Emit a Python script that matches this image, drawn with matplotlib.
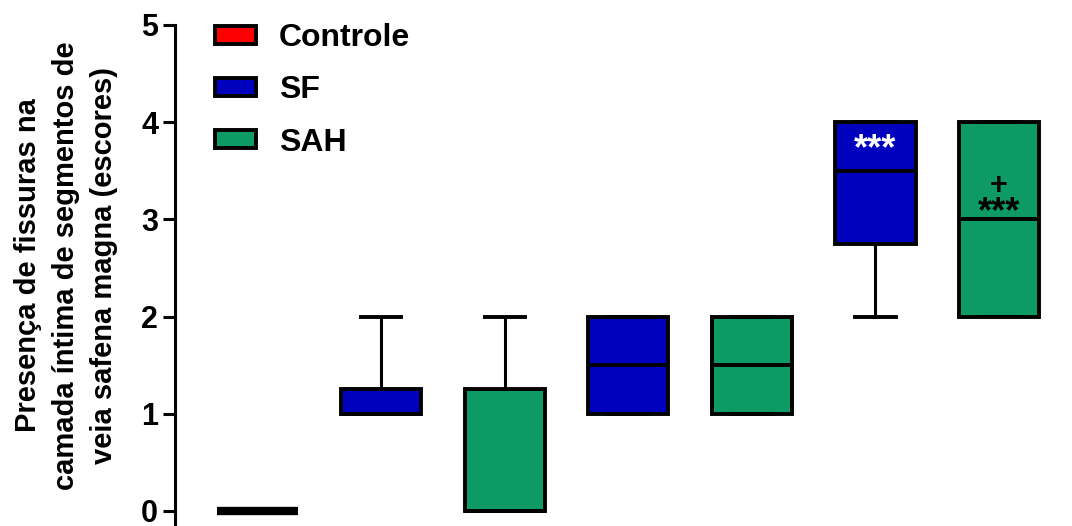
import matplotlib
matplotlib.use('Agg')
import matplotlib.pyplot as plt
from matplotlib.patches import Patch

# box statistics (score 0-5)
groups = ['Controle', 'SF', 'SAH', 'SF', 'SAH', 'SF', 'SAH']
q1 = [0, 1, 0, 1, 1, 2.75, 2]
med = [0, 1, 0, 1.5, 1.5, 3.5, 3]
q3 = [0, 1.25, 1.25, 2, 2, 4, 4]
whislo = [0, 1, 0, 1, 1, 2, 2]
whishi = [0, 2, 2, 2, 2, 4, 4]

colors = {'Controle': '#ff0000', 'SF': '#0000bf', 'SAH': '#0e9a64'}
legend_labels = ['Controle', 'SF', 'SAH']

plt.rcParams['font.family'] = ['Liberation Sans', 'DejaVu Sans']
plt.rcParams['font.weight'] = 'bold'

fig = plt.figure(figsize=(10.72, 5.26), dpi=100)
ax = fig.add_axes([0.163, 0.0, 0.837, 0.9525])

stats = []
for i in range(len(groups)):
    stats.append({'med': med[i], 'q1': q1[i], 'q3': q3[i],
                  'whislo': whislo[i], 'whishi': whishi[i], 'fliers': []})

positions = list(range(1, len(groups) + 1))
bp = ax.bxp(stats, positions=positions, widths=0.65, patch_artist=True,
            showfliers=False,
            boxprops=dict(linewidth=2.8),
            medianprops=dict(color='black', linewidth=2.8),
            whiskerprops=dict(linewidth=2.2),
            capprops=dict(linewidth=2.8))
for box, g in zip(bp['boxes'], groups):
    box.set_facecolor(colors[g])
    box.set_edgecolor('black')
# control box has zero height -> thick bar at 0
bp['medians'][0].set_linewidth(6)

# significance marks
ax.text(6, 3.72, '***', ha='center', va='center', color='white',
        fontsize=26, fontweight='bold')
ax.text(7, 3.34, '+', ha='center', va='center', color='black',
        fontsize=22, fontweight='bold')
ax.text(7, 3.07, '***', ha='center', va='center', color='black',
        fontsize=26, fontweight='bold')

ax.set_xlim(0.33, 7.59)
ax.set_ylim(-0.155, 5)
ax.set_yticks([0, 1, 2, 3, 4, 5])
ax.tick_params(axis='y', labelsize=22, width=2.2, length=9, pad=3)
ax.set_xticks([])
for s in ['top', 'right', 'bottom']:
    ax.spines[s].set_visible(False)
ax.spines['left'].set_linewidth(2.2)

ax.set_ylabel('Presença de fissuras na\ncamada íntima de segmentos de\nveia safena magna (escores)',
              fontsize=21, fontweight='bold', linespacing=1.45)
ax.yaxis.set_label_coords(-0.0635, 0.52)

handles = [Patch(facecolor=colors[l], edgecolor='black', linewidth=2.8) for l in legend_labels]
ax.legend(handles, legend_labels, loc='upper left', bbox_to_anchor=(0.0446, 1.004),
          frameon=False, handlelength=1.3, handleheight=0.5,
          labelspacing=0.7, handletextpad=0.7, borderpad=0, borderaxespad=0,
          prop={'weight': 'bold', 'size': 23})

fig.savefig('out.png', dpi=100)
